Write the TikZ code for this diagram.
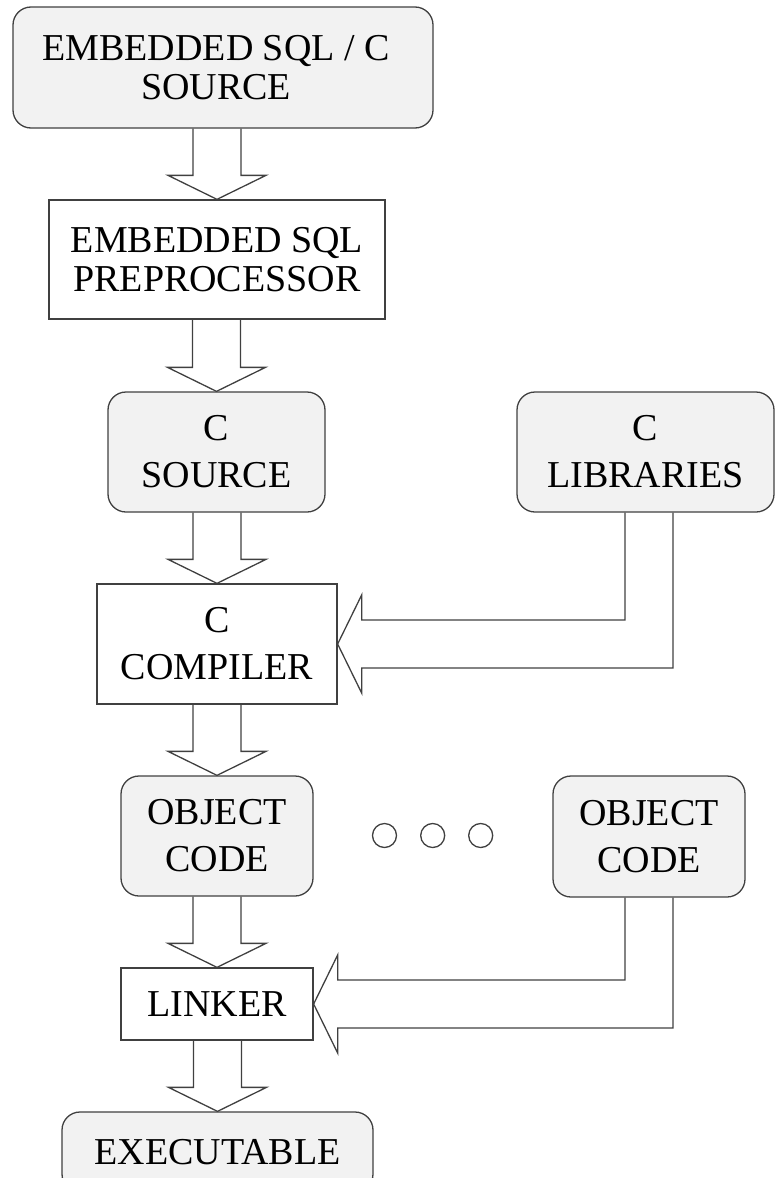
\documentclass[tikz,border=0pt]{standalone}
\usepackage{fontspec}
\setmainfont{Liberation Serif}
\usetikzlibrary{calc}
\definecolor{boxfill}{RGB}{242,242,242}
\definecolor{edge}{RGB}{64,64,64}
\tikzset{
  txt/.style={align=center, inner sep=0pt, text=black, font=\fontsize{38}{47}\selectfont},
  tight/.style={font=\fontsize{38}{39}\selectfont},
  rbox/.style={txt, draw=edge, line width=1.3pt, fill=boxfill, rounded corners=18pt},
  sbox/.style={txt, draw=edge, line width=1.3pt, fill=white},
  fat/.style={draw=edge, line width=1.3pt, line join=miter},
  dot/.style={circle, draw=edge, line width=1.3pt, minimum size=24pt, inner sep=0pt}
}
% hollow block arrow pointing down from #1 into #2
\newcommand\fatdown[2]{%
  \draw[fat] ($(#1.south -| #2.north)+(-24pt,0)$)
    -- ($(#2.north)+(-24pt,24pt)$)
    -- ($(#2.north)+(-49pt,24pt)$)
    -- (#2.north)
    -- ($(#2.north)+(49pt,24pt)$)
    -- ($(#2.north)+(24pt,24pt)$)
    -- ($(#1.south -| #2.north)+(24pt,0)$);}
% hollow block arrow leaving the bottom of #1 and entering #2 from the right;
% #3 shifts the shaft sideways from the centre of #1
\newcommand\fatleft[3]{%
  \draw[fat] ($(#1.south)+(#3-24pt,0)$)
    -- ($(#1.south |- #2.east)+(#3-24pt,24pt)$)
    -- ($(#2.east)+(24pt,24pt)$)
    -- ($(#2.east)+(24pt,49pt)$)
    -- (#2.east)
    -- ($(#2.east)+(24pt,-49pt)$)
    -- ($(#2.east)+(24pt,-24pt)$)
    -- ($(#1.south |- #2.east)+(#3+24pt,-24pt)$)
    -- ($(#1.south)+(#3+24pt,0)$);}
\begin{document}
\begin{tikzpicture}[x=1pt,y=-1pt]
\useasboundingbox (0,0) rectangle (775,1178);
\clip (0,0) rectangle (775,1178);

% boxes
\node[rbox, minimum width=420pt, minimum height=121pt] (src) at (223,67.5) {};
\node[txt, tight] (src-label) at (216,67.5) {EMBEDDED SQL / C\\SOURCE};
\node[sbox, tight, minimum width=336pt, minimum height=119pt] (prep) at (217,259.5) {EMBEDDED SQL\\PREPROCESSOR};
\node[rbox, minimum width=217pt, minimum height=120pt] (csrc) at (216.5,452) {C\\SOURCE};
\node[rbox, minimum width=257pt, minimum height=120pt] (clib) at (645.5,452) {C\\LIBRARIES};
\node[sbox, minimum width=240pt, minimum height=120pt] (comp) at (217,644) {C\\COMPILER};
\node[rbox, minimum width=192pt, minimum height=120pt] (obj1) at (217,836) {OBJECT\\CODE};
\node[rbox, minimum width=192pt, minimum height=121pt] (obj2) at (649,836.5) {OBJECT\\CODE};
\node[sbox, minimum width=192pt, minimum height=72pt] (link) at (217,1004) {LINKER};
\node[rbox, minimum width=311pt, minimum height=80pt] (exec) at (217.5,1152) {EXECUTABLE};

% ellipsis between the object files
\node[dot] (dot1) at (384.5,835.5) {};
\node[dot] (dot2) at (432.7,835.5) {};
\node[dot] (dot3) at (480.7,835.5) {};

% flow arrows
\fatdown{src}{prep}
\fatdown{prep}{csrc}
\fatdown{csrc}{comp}
\fatdown{comp}{obj1}
\fatdown{obj1}{link}
\fatdown{link}{exec}
\fatleft{clib}{comp}{3.5pt}
\fatleft{obj2}{link}{0pt}
\end{tikzpicture}
\end{document}
